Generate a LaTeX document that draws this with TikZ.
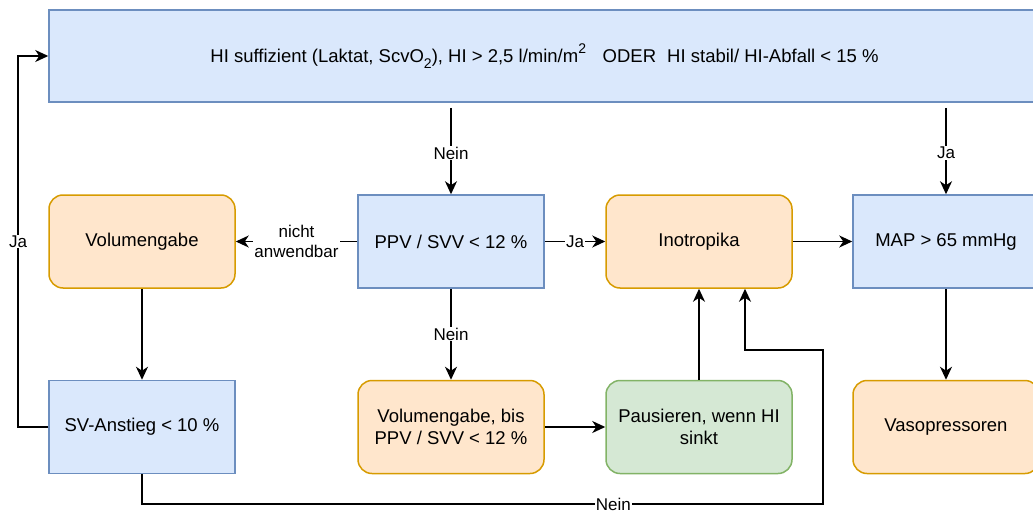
\documentclass[tikz,border=0pt]{standalone}
\usepackage{fontspec}
\setmainfont{Liberation Sans}
\usetikzlibrary{arrows.meta}
\definecolor{bfill}{HTML}{DAE8FC}\definecolor{bdraw}{HTML}{6C8EBF}
\definecolor{ofill}{HTML}{FFE6CC}\definecolor{odraw}{HTML}{D79B00}
\definecolor{gfill}{HTML}{D5E8D4}\definecolor{gdraw}{HTML}{82B366}
\newcommand{\mysub}[1]{\raisebox{-0.28em}{\fontsize{14}{14}\selectfont #1}}
\newcommand{\mysup}[1]{\raisebox{0.5em}{\fontsize{14}{14}\selectfont #1}}
\tikzset{
  box/.style={inner sep=0pt, minimum width=186pt, minimum height=93pt, align=center, line width=1.5pt,
    font=\fontsize{18.5}{22}\selectfont},
  bluebox/.style={box, fill=bfill, draw=bdraw},
  orangebox/.style={box, fill=ofill, draw=odraw, rounded corners=14pt},
  greenbox/.style={box, fill=gfill, draw=gdraw, rounded corners=14pt},
  arr/.style={line width=1.5pt, -{Stealth[length=13pt,width=12pt,inset=4pt]}},
  lbl/.style={fill=white, inner sep=1pt, align=center, font=\fontsize{17}{19.5}\selectfont},
}
\begin{document}
\begin{tikzpicture}[x=1pt,y=-1pt]
\useasboundingbox (0,0) rectangle (1033,511);
\node[bluebox, minimum width=991pt, minimum height=92pt] (top) at (544.5,56)
  {HI suffizient (Laktat, ScvO\mysub{2}), HI > 2,5 l/min/m\mysup{2}\hspace{0.9em}ODER\hspace{0.6em}HI stabil/ HI-Abfall < 15 \%};
\node[orangebox] (vol) at (142,241.5) {Volumengabe};
\node[bluebox] (ppv) at (451,241.5) {PPV / SVV < 12 \%};
\node[orangebox] (ino) at (699,241.5) {Inotropika};
\node[bluebox] (map) at (946,241.5) {MAP > 65 mmHg};
\node[bluebox] (sv) at (142,427) {SV-Anstieg < 10 \%};
\node[orangebox, font=\fontsize{18.5}{21.5}\selectfont] (volbis) at (451,427) {Volumengabe, bis\\PPV / SVV < 12 \%};
\node[greenbox, font=\fontsize{18.5}{21.5}\selectfont] (paus) at (699,427) {Pausieren, wenn HI\\sinkt};
\node[orangebox] (vaso) at (946,427) {Vasopressoren};

\draw[arr, shorten <=5pt] (top.south -| ppv) -- node[lbl, pos=0.55]{Nein} (ppv);
\draw[arr, shorten <=5pt] (top.south -| map) -- node[lbl, pos=0.55]{Ja} (map);
\draw[arr] (ppv) -- node[lbl, pos=0.5]{nicht\\anwendbar} (vol);
\draw[arr] (ppv) -- node[lbl]{Ja} (ino);
\draw[arr] (ino) -- (map);
\draw[arr] (ppv) -- node[lbl]{Nein} (volbis);
\draw[arr] (vol) -- (sv);
\draw[arr] (volbis) -- (paus);
\draw[arr] (paus) -- (ino);
\draw[arr] (map) -- (vaso);
\draw[arr] (sv.west) -- (18,427) -- node[lbl]{Ja} (18,56) -- (top.west);
\draw[arr] (sv.south) -- (142,504) -- node[lbl, pos=0.692]{Nein} (823,504) -- (823,350) -- (745,350) -- (745,0 |- ino.south);
\end{tikzpicture}
\end{document}
